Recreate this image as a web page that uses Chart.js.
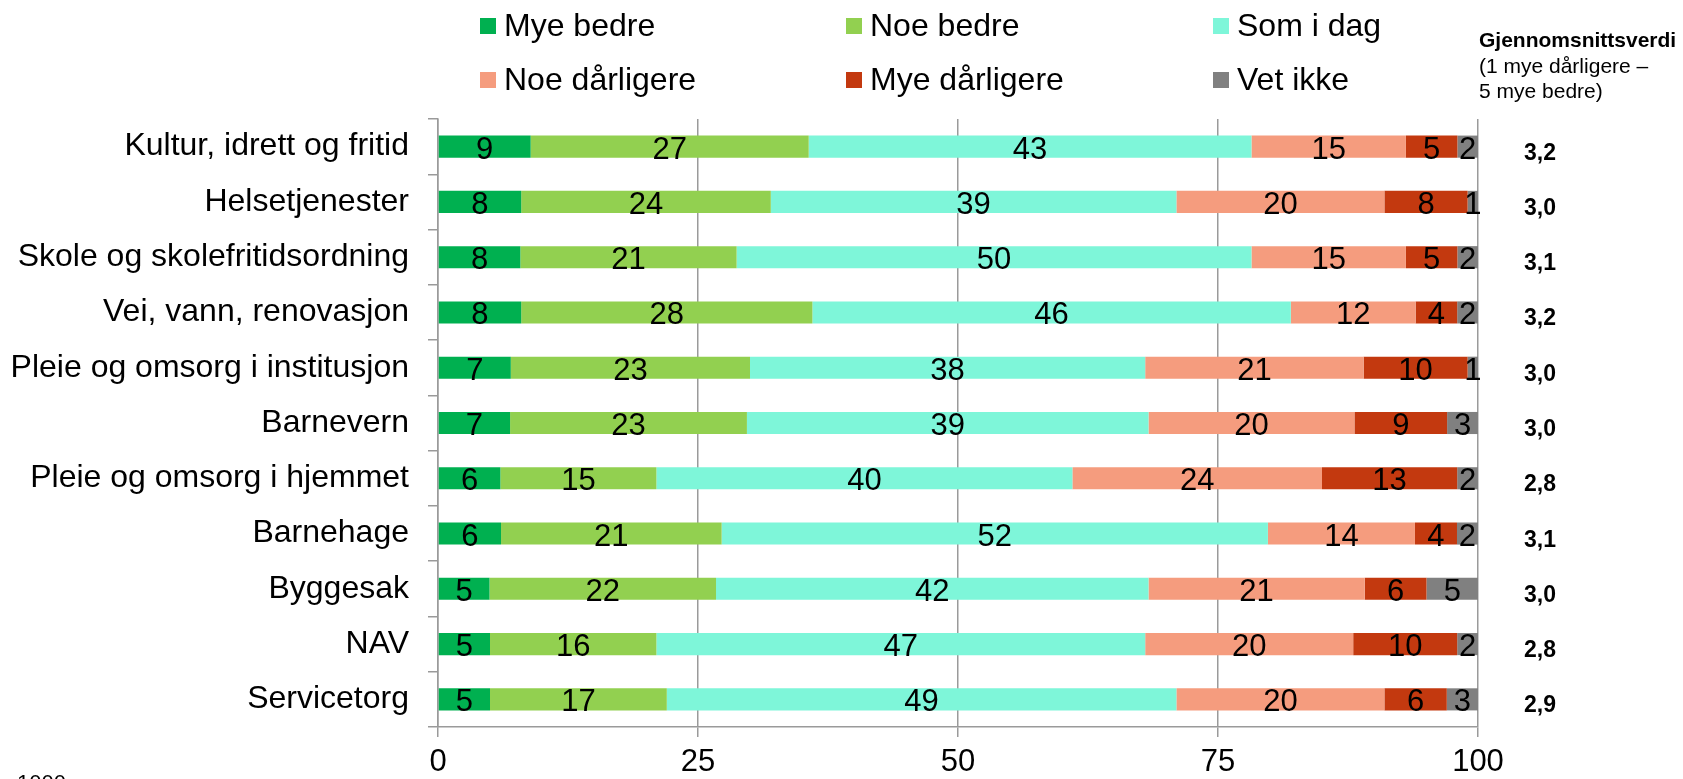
<!DOCTYPE html>
<html>
<head>
<meta charset="utf-8">
<script src="https://cdn.jsdelivr.net/npm/chart.js@4/dist/chart.umd.min.js"></script>
<style>
  html, body { margin: 0; padding: 0; background: #fff; }
  #wrap { width: 1683px; height: 779px; position: relative; }
</style>
</head>
<body>
<div id="wrap"><canvas id="chart" width="1683" height="779"></canvas></div>
<script>
// Data (per cent)
var categories = ['Kultur, idrett og fritid', 'Helsetjenester', 'Skole og skolefritidsordning',
    'Vei, vann, renovasjon', 'Pleie og omsorg i institusjon', 'Barnevern',
    'Pleie og omsorg i hjemmet', 'Barnehage', 'Byggesak', 'NAV', 'Servicetorg'];
var myeBedre     = [9, 8, 8, 8, 7, 7, 6, 6, 5, 5, 5];
var noeBedre     = [27, 24, 21, 28, 23, 23, 15, 21, 22, 16, 17];
var somIDag      = [43, 39, 50, 46, 38, 39, 40, 52, 42, 47, 49];
var noeDarligere = [15, 20, 15, 12, 21, 20, 24, 14, 21, 20, 20];
var myeDarligere = [5, 8, 5, 4, 10, 9, 13, 4, 6, 10, 6];
var vetIkke      = [2, 1, 2, 2, 1, 3, 2, 2, 5, 2, 3];
var snitt        = ['3,2', '3,0', '3,1', '3,2', '3,0', '3,0', '2,8', '3,1', '3,0', '2,8', '2,9'];
var xTicks       = [0, 25, 50, 75, 100];

var series = [
    { label: 'Mye bedre', values: myeBedre, color: '#00B050' },
    { label: 'Noe bedre', values: noeBedre, color: '#92D050' },
    { label: 'Som i dag', values: somIDag, color: '#7EF6D9' },
    { label: 'Noe dårligere', values: noeDarligere, color: '#F59C7E' },
    { label: 'Mye dårligere', values: myeDarligere, color: '#C3390F' },
    { label: 'Vet ikke', values: vetIkke, color: '#808080' }
];

// 100 % stacked, like the original: scale each row to its total
var totals = categories.map(function (c, i) {
    return series.reduce(function (s, d) { return s + d.values[i]; }, 0);
});

var FONT = '"Liberation Sans", Arial, sans-serif';
Chart.defaults.font.family = FONT;
Chart.defaults.color = '#000';

var extras = {
    id: 'extras',
    afterDatasetsDraw: function (chart) {
        var ctx = chart.ctx;
        var yScale = chart.scales.y;
        ctx.save();

        // values inside the bars
        ctx.font = '31px ' + FONT;
        ctx.fillStyle = '#000';
        ctx.textAlign = 'center';
        ctx.textBaseline = 'alphabetic';
        chart.data.datasets.forEach(function (ds, i) {
            chart.getDatasetMeta(i).data.forEach(function (bar, j) {
                var p = bar.getCenterPoint();
                ctx.fillText(ds.values[j], p.x, p.y + 12);
            });
        });

        // average column
        ctx.font = 'bold 23px ' + FONT;
        ctx.textAlign = 'left';
        categories.forEach(function (c, i) {
            ctx.fillText(snitt[i], 1524, yScale.getPixelForValue(i) + 13);
        });
        ctx.font = 'bold 21px ' + FONT;
        ctx.fillText('Gjennomsnittsverdi', 1479, 47);
        ctx.font = '21px ' + FONT;
        ctx.fillText('(1 mye dårligere –', 1479, 73);
        ctx.fillText('5 mye bedre)', 1479, 98);

        // legend, three columns
        var cols = [480, 846, 1213];
        var rows = [18, 72];
        ctx.font = '32px ' + FONT;
        series.forEach(function (s, i) {
            var x = cols[i % 3], y = rows[Math.floor(i / 3)];
            ctx.fillStyle = s.color;
            ctx.fillRect(x, y, 16, 16);
            ctx.fillStyle = '#000';
            ctx.fillText(s.label, x + 24, y + 18);
        });

        // n note at the bottom edge
        ctx.font = '22px ' + FONT;
        ctx.fillText('1000', 17, 790);
        ctx.restore();
    }
};

var ctx = document.getElementById('chart').getContext('2d');
var chart = new Chart(ctx, {
    type: 'bar',
    data: {
        labels: categories,
        datasets: series.map(function (s) {
            return {
                label: s.label,
                values: s.values,
                data: s.values.map(function (v, i) { return v / totals[i] * 100; }),
                backgroundColor: s.color,
                borderWidth: 0,
                barPercentage: 0.4,
                categoryPercentage: 1
            };
        })
    },
    options: {
        indexAxis: 'y',
        responsive: false,
        animation: false,
        devicePixelRatio: 1,
        layout: { padding: { top: 119, right: 205, left: 0, bottom: 0 } },
        plugins: { legend: { display: false }, tooltip: { enabled: false } },
        scales: {
            x: {
                stacked: true,
                min: 0,
                max: 100,
                afterBuildTicks: function (scale) {
                    scale.ticks = xTicks.map(function (v) { return { value: v }; });
                },
                afterFit: function (scale) { scale.height = 52; },
                grid: { color: '#9a9a9a', lineWidth: 1.5, tickLength: 10 },
                border: { color: '#9a9a9a', width: 1.5 },
                ticks: { font: { size: 31 }, color: '#000', padding: 7, maxRotation: 0 }
            },
            y: {
                stacked: true,
                afterFit: function (scale) { scale.width = 438; },
                grid: { offset: true, drawOnChartArea: false, color: '#9a9a9a', lineWidth: 1.5, tickLength: 10 },
                border: { color: '#9a9a9a', width: 1.5 },
                ticks: { font: { size: 32 }, color: '#000', padding: 19 }
            }
        }
    },
    plugins: [extras]
});
</script>
</body>
</html>
